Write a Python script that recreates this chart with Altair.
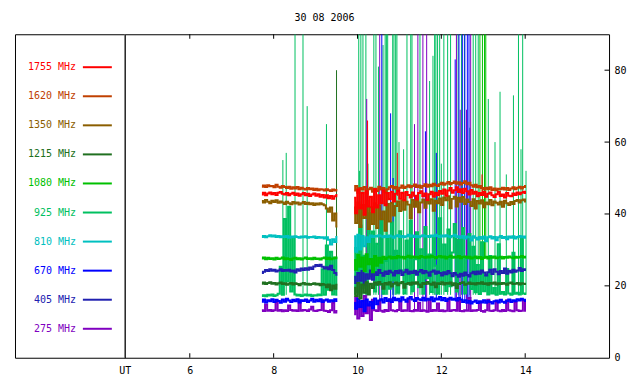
import altair as alt
import pandas as pd

MONO = "DejaVu Sans Mono"

labels = ["1755 MHz", "1620 MHz", "1350 MHz", "1215 MHz", "1080 MHz",
          "925 MHz", "810 MHz", "670 MHz", "405 MHz", "275 MHz"]
colors = ["#ff0000", "#c04000", "#8b5e00", "#207020", "#00c000",
          "#00c060", "#00c0c0", "#0000ff", "#2020b0", "#8000c0"]

x_ticks = [6, 8, 10, 12, 14]
y_ticks = [20, 40, 60, 80]
title_text = "30 08 2006"

seg1_start, seg2_start, step = 7.72, 9.92, 0.05

# ---- series values (seg a: ~7.7-9.5 UT, seg b: ~9.9-14.0 UT) ----
s1755_a = [45.4,45.9,45.2,45.7,46.0,45.5,45.8,45.3,45.9,46.1,45.6,45.4,45.8,45.2,45.6,45.9,45.3,45.7,45.1,45.5,45.8,45.2,45.6,45.0,45.4,45.7,45.1,45.5,44.8,45.3,44.6,45.2,44.4,45.0,44.2,44.9,45.3]
s1755_b = [44.5,40.2,46.8,41.5,45.9,39.8,46.3,42.1,44.8,40.5,46.9,41.8,45.2,43.0,46.5,42.4,45.8,44.1,46.2,43.5,45.6,46.4,44.2,45.9,43.8,46.1,45.3,44.6,46.0,45.1,44.0,45.8,46.3,44.9,45.7,43.9,45.5,46.2,44.8,45.9,45.2,46.4,45.6,46.8,45.1,46.5,47.2,45.9,46.6,47.4,46.1,46.9,45.8,47.0,46.3,45.4,46.7,45.6,46.2,44.9,45.8,45.3,46.1,44.8,45.6,46.0,45.2,44.7,45.5,46.1,45.0,45.4,44.6,45.8,45.1,44.9,45.7,45.3,46.0,45.5,45.9,46.2,45.8]

s1620_a = [47.6,47.9,47.5,48.0,47.7,47.8,47.4,48.1,47.6,47.3,47.8,47.5,47.2,47.6,47.0,47.4,47.1,47.5,46.9,47.3,47.0,46.8,47.2,46.9,47.1,46.7,47.0,46.6,46.9,46.8,46.5,46.9,46.6,46.4,46.8,46.5,46.7]
s1620_b = [46.5,47.8,45.9,47.2,46.8,47.5,45.6,46.9,47.3,46.2,47.0,46.4,47.6,46.8,47.2,46.0,46.9,47.4,47.8,47.1,47.5,46.7,47.3,47.9,47.2,47.6,48.0,47.4,47.8,48.2,47.5,47.9,47.3,47.8,48.3,47.6,48.1,47.7,48.4,48.0,47.8,48.3,48.7,48.1,48.5,48.9,48.3,48.6,49.0,48.4,48.8,48.2,48.6,49.1,48.3,48.7,48.0,47.6,48.1,47.4,47.8,47.2,46.8,47.3,46.9,47.4,46.7,47.1,46.6,47.0,46.9,47.3,46.8,47.2,46.7,47.1,47.4,46.9,47.3,47.6,47.1,47.5,47.8]

s1350_a = [43.6,43.2,43.9,43.4,43.0,43.7,43.3,43.8,43.1,43.5,43.2,42.8,43.4,43.0,42.7,43.3,42.9,43.2,42.6,43.0,43.3,42.8,43.1,42.7,43.0,42.5,42.9,42.6,43.0,42.7,42.4,41.5,40.6,41.8,38.2,40.1,36.5]
s1350_b = [41.8,37.5,43.2,36.4,42.5,38.9,43.6,35.8,41.9,37.2,43.0,36.1,42.4,38.5,40.7,35.3,42.8,37.9,43.1,39.6,42.2,43.5,40.8,43.8,41.2,43.4,42.6,38.8,43.9,42.0,43.6,40.5,43.2,44.0,41.7,43.5,42.9,44.1,40.9,43.7,43.0,44.3,42.5,44.6,43.8,44.9,41.6,44.2,44.8,42.1,44.5,43.4,44.7,42.8,44.0,43.3,42.2,44.1,41.5,43.6,42.9,43.8,41.9,43.2,42.7,43.9,42.4,43.5,43.1,42.6,43.4,42.0,43.7,43.0,42.5,43.3,42.8,43.6,43.9,43.2,43.8,44.0,43.5]

s1215_a = [20.6,20.9,20.5,20.8,21.0,20.6,20.8,20.4,20.7,20.9,20.5,20.7,20.3,20.6,20.8,20.4,20.7,20.5,20.2,20.6,20.8,20.4,20.6,20.3,20.5,20.7,20.4,20.6,20.2,20.5,20.3,19.6,20.4,18.8,20.1,19.2,20.3]
s1215_b = [19.5,17.2,20.8,16.5,20.4,18.1,21.0,17.6,20.6,19.4,20.9,20.3,21.1,20.5,19.2,20.8,20.4,21.0,19.8,20.6,20.9,20.2,20.7,21.1,19.5,20.5,20.8,20.3,20.9,20.6,21.0,20.4,19.7,20.8,20.5,21.1,20.6,20.3,20.9,19.6,20.7,20.5,21.0,20.4,20.8,20.6,20.9,20.2,20.7,19.4,20.5,20.8,21.0,20.3,20.6,20.9,20.5,20.7,20.4,20.8,20.6,21.0,20.5,20.7,20.3,20.8,20.6,20.9,20.4,20.7,20.5,20.8,20.6,20.3,20.7,20.9,20.5,20.6,20.8,20.4,20.7,20.6,20.5]

s1080_a = [27.6,27.9,27.4,27.8,27.5,27.7,27.3,27.8,27.5,27.6,27.9,27.4,27.7,27.5,27.2,27.6,27.8,27.4,27.7,27.3,27.6,27.9,27.5,27.7,27.4,27.8,27.5,27.6,27.3,27.7,27.9,27.5,27.8,27.4,27.6,27.9,27.7]
s1080_b = [27.2,24.5,28.6,25.3,27.9,24.1,28.8,26.0,27.5,23.8,28.3,25.6,27.8,26.4,28.1,27.5,27.9,28.2,27.6,28.0,27.7,28.3,27.9,28.1,27.6,28.0,28.4,27.8,28.2,27.9,28.1,27.7,28.3,28.0,27.8,28.2,27.9,28.4,28.0,27.7,28.1,28.3,27.9,28.2,27.6,28.0,28.4,27.8,28.1,27.9,28.3,27.7,28.0,28.2,27.8,28.1,27.6,27.9,28.2,27.7,28.0,27.5,27.9,28.1,27.6,28.0,27.8,28.2,27.7,27.9,28.1,27.6,28.0,27.8,28.2,27.9,27.7,28.1,27.8,28.0,28.3,27.9,28.1]

s925_a = [17.2,17.4,17.1,17.5,17.3,17.6,17.2,17.4,17.8,25.3,17.5,38.6,21.2,42.0,18.4,33.5,17.6,17.3,17.5,17.2,17.4,17.6,17.3,17.5,17.2,17.4,17.3,17.6,17.4,24.6,17.5,31.2,18.9,29.5,17.6,27.8,17.5]
s925_b = [17.8,30.5,18.2,36.8,19.5,28.4,17.9,40.2,22.6,35.1,18.4,31.7,20.3,38.5,17.8,26.9,33.4,19.2,37.6,21.5,29.8,18.1,35.2,24.3,17.9,32.6,20.8,38.1,18.5,27.4,34.9,19.6,30.2,17.8,36.4,22.1,28.7,18.3,33.9,25.6,17.9,38.8,21.4,31.5,18.6,35.7,19.9,29.3,37.2,18.4,32.8,23.5,36.1,17.9,27.6,34.4,19.1,30.9,18.2,25.8,17.7,32.1,18.5,22.9,17.6,28.3,17.9,19.4,17.5,31.6,17.8,18.3,17.6,24.7,17.9,17.5,29.2,17.8,18.1,17.6,33.5,17.9,17.7]

s810_a = [33.6,33.9,33.5,33.8,34.1,33.7,34.0,33.6,33.9,33.5,33.8,33.6,33.9,33.4,33.7,33.5,33.8,33.6,33.4,33.7,33.5,33.8,33.4,33.6,33.5,33.7,33.3,33.6,33.4,33.5,33.2,33.5,32.8,31.5,33.0,32.2,33.6]
s810_b = [33.8,29.5,34.2,30.1,33.9,31.0,33.5,32.2,34.0,33.6,33.9,33.7,34.1,33.8,33.5,33.9,33.6,34.0,33.7,33.4,33.8,34.1,33.6,33.9,33.5,33.8,34.2,33.7,34.0,33.6,33.9,33.5,33.8,34.1,33.7,33.9,33.6,34.0,33.8,34.2,33.9,33.6,34.0,33.7,34.1,33.8,33.5,33.9,34.2,33.6,33.8,33.4,33.9,33.2,33.7,33.5,32.6,33.8,33.4,32.9,33.6,33.1,33.7,32.4,33.5,33.8,33.2,33.6,32.7,33.5,33.9,33.3,33.6,33.0,33.7,33.4,33.8,33.2,33.6,33.9,33.5,33.7,33.4]

s670_a = [15.6,16.2,15.4,16.0,15.7,16.3,15.5,16.1,15.8,15.3,16.2,15.6,16.4,15.9,15.5,16.1,15.7,16.3,15.4,16.0,15.8,16.2,15.5,15.9,16.4,15.6,16.1,15.7,16.3,15.5,15.9,16.2,15.6,16.0,15.7,16.3,15.8]
s670_b = [15.2,13.6,16.4,14.1,15.8,12.9,16.2,14.5,15.6,13.8,16.5,14.9,15.9,16.3,15.4,16.6,15.8,16.2,15.5,16.7,16.0,16.4,15.7,16.8,16.1,15.6,16.5,16.9,16.2,15.8,16.6,16.3,16.0,16.7,15.9,16.4,16.1,16.8,15.7,16.5,16.2,16.9,16.0,16.6,15.8,16.3,16.7,16.1,16.4,15.9,16.6,16.2,15.5,16.0,15.3,15.8,15.1,15.6,15.9,15.2,15.7,15.4,16.0,15.3,15.8,15.5,15.1,15.7,15.9,15.4,16.1,15.6,15.3,15.8,16.2,15.5,16.0,15.7,16.3,15.9,16.4,16.1,15.8]

s405_a = [23.6,23.9,24.4,24.1,24.6,24.2,24.5,24.0,24.3,24.6,24.1,24.4,24.2,24.5,24.0,24.3,23.7,24.6,24.2,24.8,24.4,24.9,24.5,25.1,24.7,25.4,25.8,25.5,25.9,25.3,24.8,25.2,24.6,25.6,24.4,23.6,23.1]
s405_b = [22.5,20.8,23.6,21.4,24.1,20.2,23.2,22.0,24.3,21.7,23.8,23.0,24.4,23.6,22.8,24.0,23.3,24.2,23.7,22.9,24.1,23.5,24.3,23.0,23.8,24.5,23.4,24.0,23.6,24.2,23.1,23.9,24.4,23.5,24.1,23.7,22.8,23.9,24.3,23.4,24.0,23.6,22.9,23.8,23.2,24.1,23.5,22.7,23.6,23.1,22.5,23.4,22.8,23.7,23.0,22.6,23.5,23.9,23.2,24.0,23.4,24.3,23.7,22.9,23.8,24.5,23.3,24.6,23.9,23.2,24.1,23.6,24.8,23.4,24.2,23.7,24.5,23.9,24.3,25.0,24.1,24.6,24.4]

s275_a = [13.2,13.0,14.8,13.1,13.3,13.0,13.2,15.6,13.1,13.3,12.9,13.2,13.0,14.5,13.3,13.1,13.2,13.0,15.9,13.1,13.3,13.2,13.0,13.4,14.2,13.1,13.0,13.2,13.3,16.0,13.1,13.0,12.7,13.2,15.2,12.6,13.0]
s275_b = [12.1,16.8,10.9,15.5,11.6,17.2,12.4,14.9,10.5,16.1,13.2,13.0,15.8,13.1,12.8,13.3,13.0,16.3,13.2,13.1,12.9,13.3,15.7,13.0,13.2,13.1,16.5,13.0,12.9,13.3,13.1,15.2,13.0,13.2,13.1,12.8,16.2,13.0,13.3,13.1,15.1,13.0,13.2,12.9,13.1,16.4,13.0,13.2,13.3,13.1,15.8,13.0,12.9,13.2,13.1,16.6,13.0,13.2,13.1,13.3,15.3,13.0,12.8,13.2,16.1,13.1,13.0,13.2,15.6,13.1,12.9,13.3,13.0,16.0,13.2,13.1,12.9,15.5,13.2,13.0,13.1,15.9,13.1]

series = {
    "1755 MHz": (s1755_a, s1755_b), "1620 MHz": (s1620_a, s1620_b),
    "1350 MHz": (s1350_a, s1350_b), "1215 MHz": (s1215_a, s1215_b),
    "1080 MHz": (s1080_a, s1080_b), "925 MHz": (s925_a, s925_b),
    "810 MHz": (s810_a, s810_b), "670 MHz": (s670_a, s670_b),
    "405 MHz": (s405_a, s405_b), "275 MHz": (s275_a, s275_b),
}
draw_order = ["925 MHz", "275 MHz", "670 MHz", "405 MHz", "1215 MHz",
              "1080 MHz", "810 MHz", "1350 MHz", "1620 MHz", "1755 MHz"]

# ---- interference spikes: times, base level, top level ----
spk925_t = [8.22, 8.30, 8.51, 8.70, 8.80, 9.26, 10.03, 10.05, 10.08, 10.13, 10.20, 10.25, 10.39, 10.44, 10.50, 10.61,
            10.66, 10.69, 10.72, 10.84, 10.87, 10.91, 10.94, 10.99, 11.10, 11.18, 11.27, 11.30, 11.49, 11.72,
            11.80, 11.84, 11.87, 11.91, 11.96, 12.00, 12.06, 12.15, 12.22, 12.40, 12.48, 12.55, 12.68, 12.76,
            12.82, 12.88, 13.12, 13.28, 13.40, 13.55, 13.72, 13.84, 13.90, 13.94, 14.02]
spk925_top = [55, 57, 90, 90, 70, 65, 90, 52, 90, 90, 90, 54, 90, 90, 81, 87,
              90, 90, 90, 90, 90, 90, 90, 60, 58, 90, 90, 90, 90, 77,
              84, 90, 90, 90, 90, 54, 90, 90, 90, 90, 90, 90, 64, 90,
              90, 90, 72, 60, 74, 51, 73, 90, 58, 90, 52]
spk1080_t = [12.92, 12.98, 13.03, 13.06]
spk1080_top = [90, 90, 90, 90]
spk670_t = [10.58, 10.79, 10.85, 11.62, 11.88, 12.33, 12.42, 12.50, 12.56, 12.62, 12.66]
spk670_top = [90, 68, 50, 63, 57, 83, 90, 90, 90, 90, 90]
spk275_t = [10.22, 10.53, 11.36, 11.44, 11.56, 11.65, 12.36, 12.45, 12.60, 12.70]
spk275_top = [72, 90, 65, 90, 90, 90, 90, 69, 69, 90]
spk1755_t = [10.24, 10.95, 12.97]
spk1755_top = [66, 57, 51]
spk1215_t = [9.50]
spk1215_top = [80]
spike_sets = [("925 MHz", 17.5, spk925_t, spk925_top), ("1080 MHz", 27.5, spk1080_t, spk1080_top),
              ("670 MHz", 16.0, spk670_t, spk670_top), ("275 MHz", 13.3, spk275_t, spk275_top),
              ("1755 MHz", 45.0, spk1755_t, spk1755_top), ("1215 MHz", 20.5, spk1215_t, spk1215_top)]

# ---- build tables ----
line_frames = {}
for lab in draw_order:
    a, b = series[lab]
    rows = [{"f": lab, "seg": 1, "t": round(seg1_start + step * i, 3), "v": v} for i, v in enumerate(a)]
    rows += [{"f": lab, "seg": 2, "t": round(seg2_start + step * i, 3), "v": v} for i, v in enumerate(b)]
    line_frames[lab] = pd.DataFrame(rows)

spk_rows = []
for lab, base, ts, tops in spike_sets:
    for t, top in zip(ts, tops):
        spk_rows.append({"f": lab, "t": t, "base": base, "top": top})
spk_df = pd.DataFrame(spk_rows)

legend_df = pd.DataFrame({"f": labels, "i": list(range(len(labels)))})
one = pd.DataFrame({"a": [0]})

W_L, W_R, H = 110, 485, 324

color_scale = alt.Scale(domain=labels, range=colors)
xscale = alt.Scale(domain=[4.45, 16], nice=False, zero=False)
yscale = alt.Scale(domain=[0, 90], nice=False, zero=True)
xaxis = alt.Axis(values=[4.45] + x_ticks, labelExpr="datum.value < 5 ? 'UT' : datum.label",
                 ticks=False, domain=False, grid=False, labelPadding=8, title=None, format="d",
                 labelOverlap=False, labelFlush=False)
yaxis = alt.Axis(orient="right", values=[0] + y_ticks, ticks=False, domain=False, grid=False,
                 labelPadding=5, title=None)

# ---- left legend panel ----
ly = alt.Y("i:Q", scale=alt.Scale(domain=[0, len(labels) - 1], range=[33, 295], nice=False, zero=False), axis=None)
lcolor = alt.Color("f:N", scale=color_scale, legend=None)
leg_text = alt.Chart(legend_df).mark_text(align="right", baseline="middle", font=MONO, fontSize=10).encode(
    x=alt.value(61), y=ly, text="f:N", color=lcolor)
leg_line = alt.Chart(legend_df).mark_rule(strokeWidth=2).encode(
    x=alt.value(68), x2=alt.value(97), y=ly, color=lcolor)
left = alt.layer(leg_text, leg_line).properties(width=W_L, height=H)

# ---- right data panel ----
spikes = alt.Chart(spk_df).mark_rule(strokeWidth=1, clip=True).encode(
    x=alt.X("t:Q", scale=xscale, axis=xaxis),
    y=alt.Y("base:Q", scale=yscale, axis=yaxis), y2="top:Q",
    color=alt.Color("f:N", scale=color_scale, legend=None))

line_layers = []
for lab in draw_order:
    line_layers.append(
        alt.Chart(line_frames[lab]).mark_line(interpolate="step", strokeWidth=2, clip=True).encode(
            x=alt.X("t:Q", scale=xscale, axis=xaxis),
            y=alt.Y("v:Q", scale=yscale, axis=yaxis),
            detail="seg:N",
            color=alt.Color("f:N", scale=color_scale, legend=None)))

xt_df = pd.DataFrame({"t": x_ticks})
yt_df = pd.DataFrame({"v": y_ticks})
xt_bottom = alt.Chart(xt_df).mark_rule(color="black", strokeWidth=1).encode(
    x=alt.X("t:Q", scale=xscale, axis=xaxis), y=alt.value(H), y2=alt.value(H - 4.5))
xt_top = alt.Chart(xt_df).mark_rule(color="black", strokeWidth=1).encode(
    x=alt.X("t:Q", scale=xscale, axis=xaxis), y=alt.value(0), y2=alt.value(4.5))
yt = alt.Chart(yt_df).mark_rule(color="black", strokeWidth=1).encode(
    y=alt.Y("v:Q", scale=yscale, axis=yaxis), x=alt.value(W_R - 4.5), x2=alt.value(W_R))
sep = alt.Chart(one).mark_rule(color="#7a7a7a", strokeWidth=1).encode(
    x=alt.value(0), y=alt.value(0), y2=alt.value(H))

right = alt.layer(spikes, *line_layers, xt_bottom, xt_top, yt, sep).properties(width=W_R, height=H)

chart = alt.hconcat(left, right, spacing=0, bounds="flush").properties(
    title=alt.TitleParams(title_text, font=MONO, fontSize=10, fontWeight="normal",
                          anchor="middle", offset=10, dx=4, color="black"),
    padding={"left": 6, "top": 5, "right": 5, "bottom": 5},
).configure_view(stroke="black", strokeWidth=1).configure_axis(
    labelFont=MONO, labelFontSize=10, labelColor="black"
).configure_concat(spacing=0)

chart.save("out.html", embed_options={"renderer": "svg", "actions": False})
